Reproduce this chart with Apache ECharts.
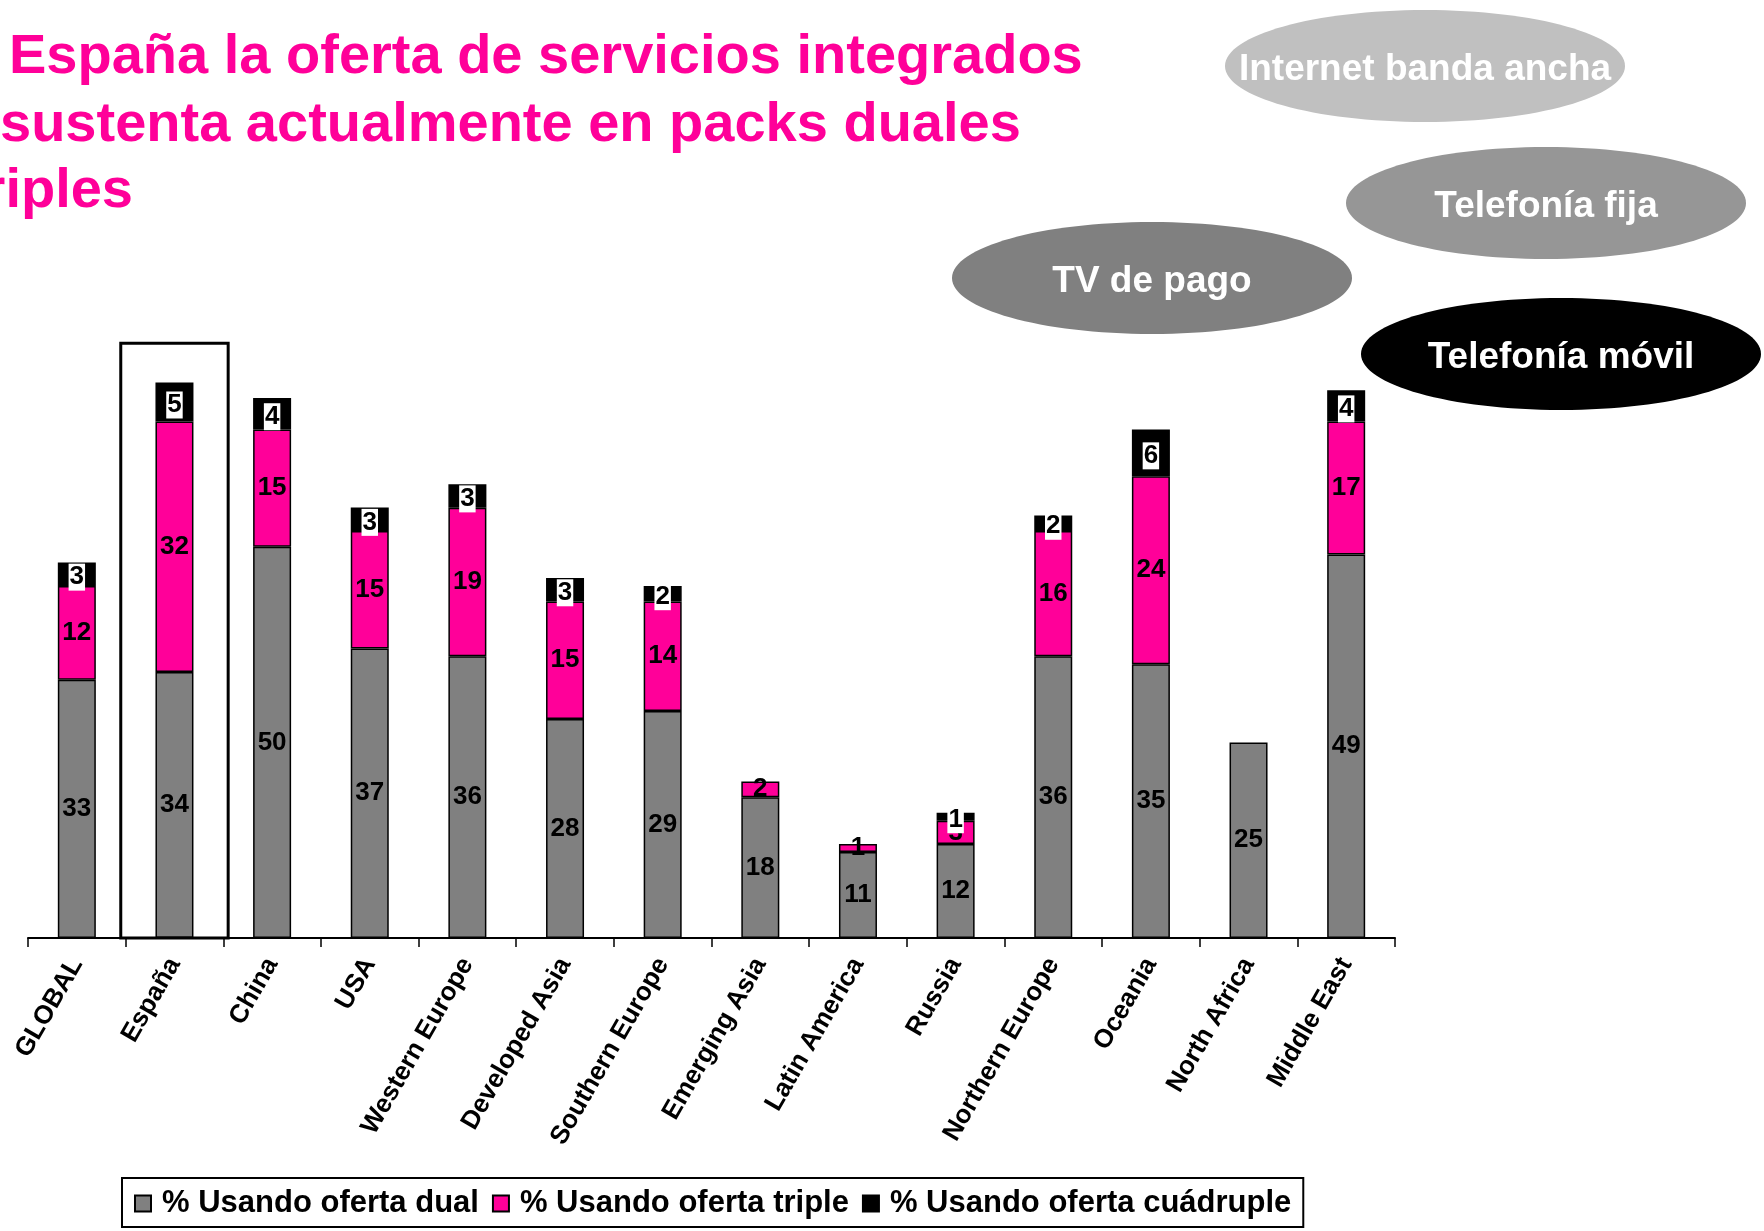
<!DOCTYPE html>
<html>
<head>
<meta charset="utf-8">
<script src="https://cdn.jsdelivr.net/npm/echarts@6/dist/echarts.min.js"></script>
<style>
html, body { margin: 0; padding: 0; background: #fff; }
#chart { width: 1764px; height: 1231px; }
</style>
</head>
<body>
<div id="chart"></div>
<script>
(function() {

    // data
    const regions = ['GLOBAL', 'España', 'China', 'USA', 'Western Europe', 'Developed Asia',
        'Southern Europe', 'Emerging Asia', 'Latin America', 'Russia', 'Northern Europe',
        'Oceania', 'North Africa', 'Middle East'];
    const dualValues = [33, 34, 50, 37, 36, 28, 29, 18, 11, 12, 36, 35, 25, 49];
    const tripleValues = [12, 32, 15, 15, 19, 15, 14, 2, 1, 3, 16, 24, null, 17];
    const quadValues = [3, 5, 4, 3, 3, 3, 2, null, null, 1, 2, 6, null, 4];
    const seriesNames = ['% Usando oferta dual', '% Usando oferta triple', '% Usando oferta cuádruple'];

    const titleLines = ['España la oferta de servicios integrados', 'sustenta actualmente en packs duales', 'y triples'];
    const bubbleLabels = ['Internet banda ancha', 'Telefonía fija', 'TV de pago', 'Telefonía móvil'];

    const font = '"Liberation Sans", Arial, sans-serif';
    const pink = '#FF0099';

    const chart = echarts.init(document.getElementById('chart'));

    const barLabel = {
        show: true,
        position: 'inside',
        color: '#000',
        fontFamily: font,
        fontWeight: 'bold',
        fontSize: 26
    };

    // bubbles top right
    const bubbles = [
        { cx: 1425, cy: 66, fill: '#C0C0C0' },
        { cx: 1546, cy: 203, fill: '#969696' },
        { cx: 1152, cy: 278, fill: '#808080' },
        { cx: 1561, cy: 354, fill: '#000000' }
    ];

    let graphics = [];
    bubbles.forEach((b, i) => {
        graphics.push({
            type: 'ellipse',
            shape: { cx: b.cx, cy: b.cy, rx: 200, ry: 56 },
            style: { fill: b.fill },
            z: 1
        });
        graphics.push({
            type: 'text',
            x: b.cx, y: b.cy + 4,
            style: {
                text: bubbleLabels[i],
                fill: '#fff',
                font: 'bold 37px ' + font,
                textAlign: 'center',
                textVerticalAlign: 'middle'
            },
            z: 2
        });
    });

    // title, clipped at the left edge as in the slide
    graphics.push({
        type: 'text', x: 9, y: 58,
        style: { text: titleLines[0], fill: pink, font: 'bold 56px ' + font, textAlign: 'left', textVerticalAlign: 'middle' }
    });
    graphics.push({
        type: 'text', x: 0, y: 126,
        style: { text: titleLines[1], fill: pink, font: 'bold 56px ' + font, textAlign: 'left', textVerticalAlign: 'middle' }
    });
    graphics.push({
        type: 'text', x: 133, y: 192,
        style: { text: titleLines[2], fill: pink, font: 'bold 56px ' + font, textAlign: 'right', textVerticalAlign: 'middle' }
    });

    let option = {
        animation: false,
        backgroundColor: '#fff',
        legend: {
            left: 122,
            top: 1178,
            padding: [10, 12, 8, 12],
            borderColor: '#000',
            borderWidth: 2,
            itemWidth: 16,
            itemHeight: 16,
            itemGap: 13,
            icon: 'rect',
            textStyle: { fontFamily: font, fontWeight: 'bold', fontSize: 31, color: '#000', padding: [0, 0, 0, 6] },
            data: seriesNames
        },
        grid: {
            left: 28,
            right: 369,
            top: 312,
            bottom: 293
        },
        xAxis: {
            type: 'category',
            data: regions,
            axisLine: { lineStyle: { color: '#000', width: 2 } },
            axisTick: { show: true, length: 9, lineStyle: { color: '#000', width: 1.5 } },
            axisLabel: {
                interval: 0,
                rotate: 60,
                margin: 22,
                color: '#000',
                fontFamily: font,
                fontWeight: 'bold',
                fontSize: 26
            }
        },
        yAxis: {
            type: 'value',
            min: 0,
            max: 80,
            show: false,
            splitLine: { show: false }
        },
        series: [
            {
                name: seriesNames[0],
                type: 'bar',
                stack: 'total',
                barWidth: 38,
                data: dualValues,
                itemStyle: { color: '#808080', borderColor: '#000', borderWidth: 1.5 },
                label: barLabel
            },
            {
                name: seriesNames[1],
                type: 'bar',
                stack: 'total',
                data: tripleValues,
                itemStyle: { color: pink, borderColor: '#000', borderWidth: 1.5 },
                label: barLabel
            },
            {
                name: seriesNames[2],
                type: 'bar',
                stack: 'total',
                data: quadValues,
                itemStyle: { color: '#000', borderColor: '#000', borderWidth: 1.5 },
                label: Object.assign({}, barLabel, {
                    backgroundColor: '#fff',
                    padding: [1, 1, 0, 1],
                    offset: [0, 3]
                })
            }
        ],
        graphic: graphics
    };

    chart.setOption(option);

    // frame around España
    const base = chart.convertToPixel({ xAxisIndex: 0, yAxisIndex: 0 }, ['España', 0]);
    const top = chart.convertToPixel({ xAxisIndex: 0, yAxisIndex: 0 }, ['España', 76]);
    const band = chart.convertToPixel({ xAxisIndex: 0 }, 'China') - base[0];
    const w = band * 1.1;
    graphics.push({
        type: 'rect',
        shape: { x: base[0] - w / 2, y: top[1], width: w, height: base[1] - top[1] },
        style: { fill: 'none', stroke: '#000', lineWidth: 3 },
        z: 10
    });
    chart.setOption({ graphic: graphics });
})();
</script>
</body>
</html>
